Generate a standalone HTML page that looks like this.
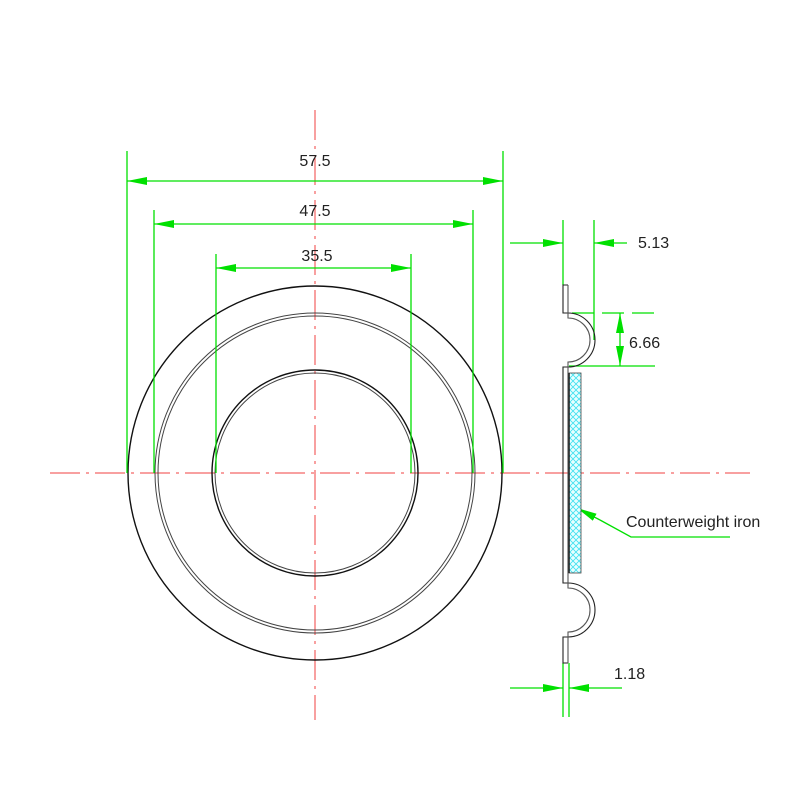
<!DOCTYPE html>
<html><head><meta charset="utf-8"><style>body{margin:0;background:#fff}svg{display:block}text{font-family:"Liberation Sans",sans-serif;font-size:16px;fill:#222}</style></head><body>
<svg width="800" height="800" viewBox="0 0 800 800" xmlns="http://www.w3.org/2000/svg">
<defs>
<marker id="a" viewBox="0 0 20 10" refX="20" refY="5" markerWidth="20" markerHeight="10" markerUnits="userSpaceOnUse" orient="auto"><path d="M0,1 L20,5 L0,9 Z" fill="#00e000"/></marker>
<pattern id="h" width="6" height="6" patternUnits="userSpaceOnUse"><rect width="6" height="6" fill="#e8ffff"/><path d="M0,0 L6,6 M6,0 L0,6" stroke="#40e0f0" stroke-width="0.8"/></pattern>
</defs>
<g stroke="#f04040" stroke-width="1" stroke-dasharray="30,6,3,6" fill="none">
<line x1="50" y1="473" x2="750" y2="473"/>
<line x1="315" y1="110" x2="315" y2="720"/>
</g>
<g fill="none" stroke="#111">
<circle cx="315" cy="473" r="187" stroke-width="1.4"/>
<circle cx="315" cy="473" r="160" stroke-width="1" stroke="#444"/>
<circle cx="315" cy="473" r="157" stroke-width="1" stroke="#444"/>
<circle cx="315" cy="473" r="103" stroke-width="1.4"/>
<circle cx="315" cy="473" r="100" stroke-width="1" stroke="#444"/>
</g>
<g stroke="#00e000" stroke-width="1.3" fill="none">
<line x1="127" y1="151" x2="127" y2="473"/><line x1="503" y1="151" x2="503" y2="473"/>
<line x1="154" y1="210" x2="154" y2="473"/><line x1="473" y1="210" x2="473" y2="473"/>
<line x1="216" y1="254" x2="216" y2="473"/><line x1="411" y1="254" x2="411" y2="473"/>
<line x1="315" y1="181" x2="127" y2="181" marker-end="url(#a)"/><line x1="315" y1="181" x2="503" y2="181" marker-end="url(#a)"/>
<line x1="315" y1="224" x2="154" y2="224" marker-end="url(#a)"/><line x1="315" y1="224" x2="473" y2="224" marker-end="url(#a)"/>
<line x1="315" y1="268" x2="216" y2="268" marker-end="url(#a)"/><line x1="315" y1="268" x2="411" y2="268" marker-end="url(#a)"/>
<line x1="563" y1="220" x2="563" y2="285"/><line x1="594" y1="220" x2="594" y2="340"/>
<line x1="510" y1="243" x2="563" y2="243" marker-end="url(#a)"/>
<line x1="627" y1="243" x2="594" y2="243" marker-end="url(#a)"/>
<line x1="572" y1="313" x2="655" y2="313" stroke-dasharray="22,8"/>
<line x1="569" y1="366" x2="655" y2="366"/>
<line x1="620" y1="340" x2="620" y2="313" marker-end="url(#a)"/>
<line x1="620" y1="340" x2="620" y2="366" marker-end="url(#a)"/>
<line x1="563" y1="663" x2="563" y2="717"/><line x1="569" y1="663" x2="569" y2="717"/>
<line x1="510" y1="688" x2="563" y2="688" marker-end="url(#a)"/>
<line x1="622" y1="688" x2="569" y2="688" marker-end="url(#a)"/>
<polyline points="730,537 631,537 600,520"/>
<line x1="600" y1="520" x2="577" y2="508" marker-end="url(#a)"/>
</g>
<rect x="569" y="373" width="12" height="200" fill="url(#h)" stroke="#444" stroke-width="0.8"/>
<line x1="569" y1="373" x2="569" y2="573" stroke="#111" stroke-width="1.5"/>
<g fill="none" stroke="#222" stroke-width="1.1">
<path d="M568,285 H563 V313 H568 A27,27 0 0 1 568,367 H563 V583 H568 A27,27 0 0 1 568,637 H563 V663 H568"/>
<path d="M568,285 V318 A22,22 0 0 1 568,362 V588 A22,22 0 0 1 568,632 V663" stroke="#555"/>
</g>
<text x="315" y="166" text-anchor="middle">57.5</text>
<text x="315" y="216" text-anchor="middle">47.5</text>
<text x="317" y="261" text-anchor="middle">35.5</text>
<text x="638" y="248">5.13</text>
<text x="629" y="348">6.66</text>
<text x="614" y="679">1.18</text>
<text x="626" y="527">Counterweight iron</text>
</svg>
</body></html>
